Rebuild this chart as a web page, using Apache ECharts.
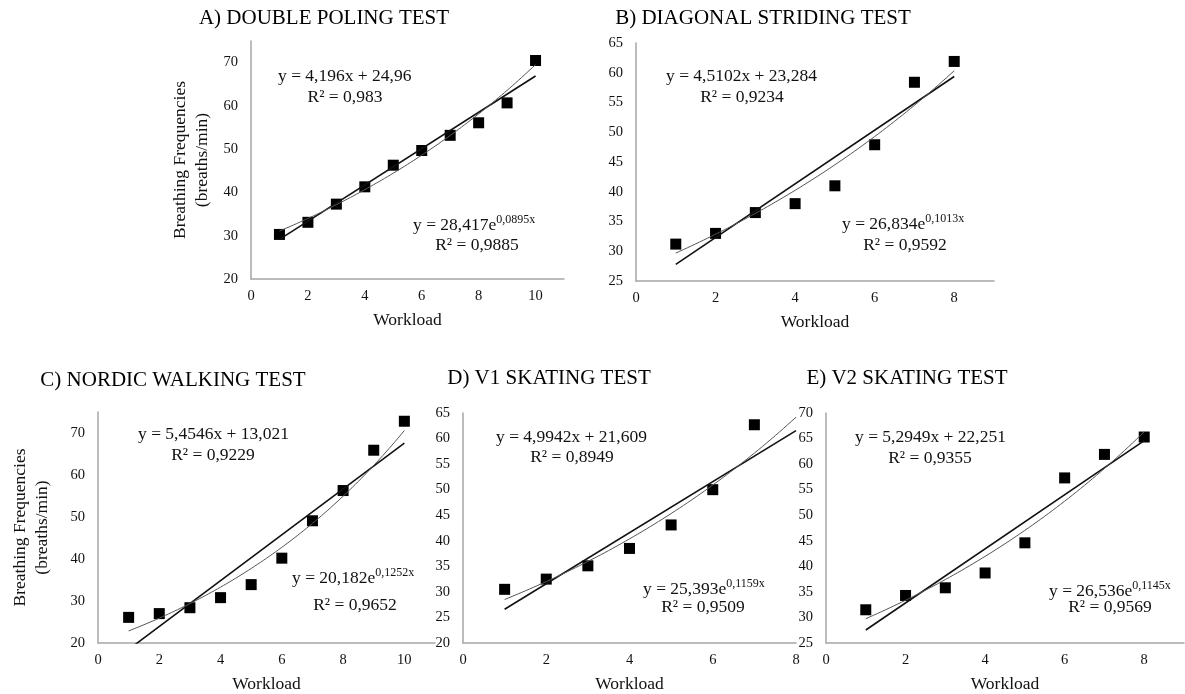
<!DOCTYPE html>
<html>
<head>
<meta charset="utf-8">
<title>Breathing frequency vs workload</title>
<script src="https://cdn.jsdelivr.net/npm/echarts@6/dist/echarts.min.js"></script>
<style>
  html, body { margin: 0; padding: 0; background: #fff; }
  #chart { width: 1185px; height: 694px; }
</style>
</head>
<body>
<div id="chart"></div>
<script>
// ---- Measured breathing frequencies (breaths/min) per workload stage ----
const titleA = 'A) DOUBLE POLING TEST';
const workloadA = [1, 2, 3, 4, 5, 6, 7, 8, 9, 10];
const breathsA = [30.3, 33.1, 37.3, 41.3, 46.3, 49.7, 53.2, 56.1, 60.7, 70.5];
const linearA = [4.196, 24.96];      // slope, intercept
const linearR2A = 0.983;
const expA = [28.417, 0.0895];       // a, k  for y = a·e^(kx)
const expR2A = 0.9885;

const titleB = 'B) DIAGONAL STRIDING TEST';
const workloadB = [1, 2, 3, 4, 5, 6, 7, 8];
const breathsB = [31.2, 33.0, 36.5, 38.0, 41.0, 47.9, 58.4, 61.9];
const linearB = [4.5102, 23.284];
const linearR2B = 0.9234;
const expB = [26.834, 0.1013];
const expR2B = 0.9592;

const titleC = 'C) NORDIC WALKING TEST';
const workloadC = [1, 2, 3, 4, 5, 6, 7, 8, 9, 10];
const breathsC = [26.1, 27.0, 28.4, 30.8, 33.9, 40.2, 49.1, 56.3, 65.9, 72.8];
const linearC = [5.4546, 13.021];
const linearR2C = 0.9229;
const expC = [20.182, 0.1252];
const expR2C = 0.9652;

const titleD = 'D) V1 SKATING TEST';
const workloadD = [1, 2, 3, 4, 5, 6, 7];
const breathsD = [30.5, 32.5, 35.1, 38.5, 43.1, 50.0, 62.7];
const linearD = [4.9942, 21.609];
const linearR2D = 0.8949;
const expD = [25.393, 0.1159];
const expR2D = 0.9509;

const titleE = 'E) V2 SKATING TEST';
const workloadE = [1, 2, 3, 4, 5, 6, 7, 8];
const breathsE = [31.5, 34.3, 35.8, 38.7, 44.6, 57.3, 61.9, 65.3];
const linearE = [5.2949, 22.251];
const linearR2E = 0.9355;
const expE = [26.536, 0.1145];
const expR2E = 0.9569;

// trend lines run over the workload range (D is projected one stage further)
const trendEndA = 10, trendEndB = 8, trendEndC = 10, trendEndD = 8, trendEndE = 8;

const yAxisTitle = 'Breathing Frequencies\n(breaths/min)';
const xAxisTitle = 'Workload';

// ---- Layout / styling ----
const FONT = '"Liberation Serif", "Times New Roman", serif';
const INK = '#111';

const panels = [
  { title: titleA, x: workloadA, y: breathsA, lin: linearA, linR2: linearR2A, exp: expA, expR2: expR2A, end: trendEndA,
    grid: { left: 251, top: 41, width: 313, height: 238 }, xMax: 11, yMin: 20, yMax: 75, yInt: 10, yName: true,
    titlePos: [324, 18], eq1: [278, 76], r1: [345, 97], eq2: [413, 224], r2: [477, 245] },
  { title: titleB, x: workloadB, y: breathsB, lin: linearB, linR2: linearR2B, exp: expB, expR2: expR2B, end: trendEndB,
    grid: { left: 636, top: 43, width: 358, height: 238 }, xMax: 9, yMin: 25, yMax: 65, yInt: 5, yName: false,
    titlePos: [763, 18], eq1: [666, 76], r1: [742, 97], eq2: [842, 223], r2: [905, 245] },
  { title: titleC, x: workloadC, y: breathsC, lin: linearC, linR2: linearR2C, exp: expC, expR2: expR2C, end: trendEndC,
    grid: { left: 98, top: 412, width: 337, height: 233 }, xMax: 11, yMin: 20, yMax: 75, yInt: 10, yName: true,
    titlePos: [173, 380], eq1: [138, 434], r1: [213, 455], eq2: [292, 577], r2: [355, 605] },
  { title: titleD, x: workloadD, y: breathsD, lin: linearD, linR2: linearR2D, exp: expD, expR2: expR2D, end: trendEndD,
    grid: { left: 463, top: 413, width: 333, height: 232 }, xMax: 8, yMin: 20, yMax: 65, yInt: 5, yName: false,
    titlePos: [549, 378], eq1: [496, 437], r1: [572, 457], eq2: [643, 588], r2: [703, 607] },
  { title: titleE, x: workloadE, y: breathsE, lin: linearE, linR2: linearR2E, exp: expE, expR2: expR2E, end: trendEndE,
    grid: { left: 826, top: 413, width: 358, height: 230 }, xMax: 9, yMin: 25, yMax: 70, yInt: 5, yName: false,
    titlePos: [907, 378], eq1: [855, 437], r1: [930, 458], eq2: [1049, 590], r2: [1110, 607] }
];

const fmt = v => String(v).replace('.', ',');

const grids = [], xAxes = [], yAxes = [], series = [], graphics = [];
const axisLineStyle = { show: true, lineStyle: { color: '#a6a6a6', width: 1.5 } };
const labelStyle = { color: INK, fontFamily: FONT, fontSize: 14.5 };

panels.forEach((p, i) => {
  grids.push(Object.assign({ containLabel: false }, p.grid));

  xAxes.push({
    type: 'value', gridIndex: i, min: 0, max: p.xMax, interval: 2,
    axisLine: axisLineStyle, axisTick: { show: false }, splitLine: { show: false },
    axisLabel: Object.assign({ margin: 10, showMaxLabel: p.xMax % 2 === 0 }, labelStyle),
    name: xAxisTitle, nameLocation: 'middle', nameGap: 32,
    nameTextStyle: { color: INK, fontFamily: FONT, fontSize: 17.5 }
  });

  yAxes.push({
    type: 'value', gridIndex: i, min: p.yMin, max: p.yMax, interval: p.yInt,
    axisLine: axisLineStyle, axisTick: { show: false }, splitLine: { show: false },
    axisLabel: Object.assign({ margin: 13, showMaxLabel: (p.yMax - p.yMin) % p.yInt === 0 }, labelStyle),
    name: p.yName ? yAxisTitle : '', nameLocation: 'middle', nameRotate: 90, nameGap: i === 0 ? 38 : 45,
    nameTextStyle: { color: INK, fontFamily: FONT, fontSize: 17.5, lineHeight: 22 }
  });

  // observed values
  series.push({
    type: 'scatter', xAxisIndex: i, yAxisIndex: i, symbol: 'rect', symbolSize: 11,
    itemStyle: { color: '#000', opacity: 1 }, z: 2,
    data: p.x.map((x, k) => [x, p.y[k]])
  });

  // linear trend line from its fitted coefficients
  const [slope, icpt] = p.lin;
  const x0 = p.x[0];
  series.push({
    type: 'line', xAxisIndex: i, yAxisIndex: i, showSymbol: false, silent: true, clip: true, z: 3,
    lineStyle: { color: '#111', width: 1.6 },
    data: [[x0, slope * x0 + icpt], [p.end, slope * p.end + icpt]]
  });

  // exponential trend line from its fitted coefficients
  const [ea, ek] = p.exp;
  const expPts = [];
  for (let s = 0; s <= (p.end - x0) * 10; s++) {
    const xv = x0 + s / 10;
    expPts.push([xv, ea * Math.exp(ek * xv)]);
  }
  series.push({
    type: 'line', xAxisIndex: i, yAxisIndex: i, showSymbol: false, silent: true, clip: true, z: 3,
    lineStyle: { color: '#555', width: 1 },
    data: expPts
  });

  // panel heading
  graphics.push({
    type: 'text', x: p.titlePos[0], y: p.titlePos[1],
    style: { text: p.title, font: '21px ' + FONT, fill: '#000', textAlign: 'center', textVerticalAlign: 'middle' }
  });

  // fitted equations
  graphics.push({
    type: 'text', x: p.eq1[0], y: p.eq1[1],
    style: { text: 'y = ' + fmt(slope) + 'x + ' + fmt(icpt), font: '17.5px ' + FONT, fill: INK,
             textAlign: 'left', textVerticalAlign: 'middle' }
  });
  graphics.push({
    type: 'text', x: p.r1[0], y: p.r1[1],
    style: { text: 'R² = ' + fmt(p.linR2), font: '17.5px ' + FONT, fill: INK,
             textAlign: 'center', textVerticalAlign: 'middle' }
  });
  graphics.push({
    type: 'text', x: p.eq2[0], y: p.eq2[1],
    style: {
      text: '{b|y = ' + fmt(ea) + 'e}{s|' + fmt(ek) + 'x}',
      textAlign: 'left', textVerticalAlign: 'middle', fill: INK,
      rich: {
        b: { fontSize: 17.5, fontFamily: FONT, fill: INK, verticalAlign: 'bottom', lineHeight: 20 },
        s: { fontSize: 12, fontFamily: FONT, fill: INK, verticalAlign: 'top' }
      }
    }
  });
  graphics.push({
    type: 'text', x: p.r2[0], y: p.r2[1],
    style: { text: 'R² = ' + fmt(p.expR2), font: '17.5px ' + FONT, fill: INK,
             textAlign: 'center', textVerticalAlign: 'middle' }
  });
});

const chart = echarts.init(document.getElementById('chart'), null, { renderer: 'canvas' });
chart.setOption({
  backgroundColor: '#fff',
  animation: false,
  grid: grids,
  xAxis: xAxes,
  yAxis: yAxes,
  series: series,
  graphic: graphics
});
</script>
</body>
</html>
